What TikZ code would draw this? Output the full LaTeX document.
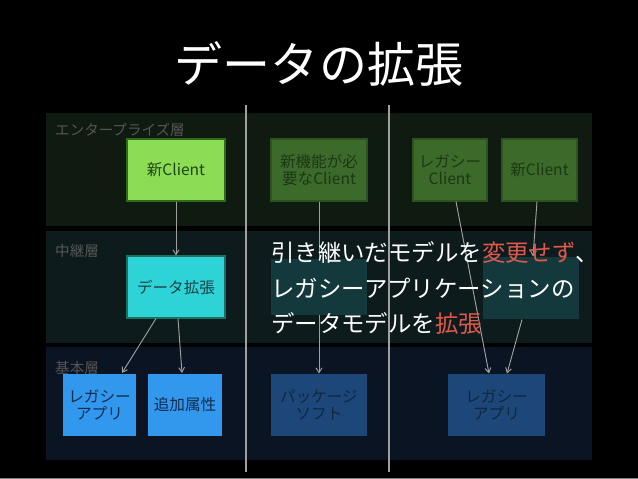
\documentclass[tikz,border=0pt]{standalone}
\usepackage{fontspec}
\setmainfont{Noto Sans CJK JP}
\usetikzlibrary{arrows.meta,calc}

\newlength\dxpx
\setlength\dxpx{0.03cm}

\definecolor{dxbgent}{HTML}{0F1A10}
\definecolor{dxbgmid}{HTML}{0E1B1C}
\definecolor{dxbgbase}{HTML}{0B1423}
\definecolor{dxgreen}{HTML}{8DDC55}
\definecolor{dxgreenln}{HTML}{2F6A1E}
\definecolor{dxgreentx}{HTML}{1E4614}
\definecolor{dxmoss}{HTML}{3C6A2B}
\definecolor{dxmossln}{HTML}{2C5220}
\definecolor{dxmosstx}{HTML}{1C3814}
\definecolor{dxcyan}{HTML}{2DD3D6}
\definecolor{dxcyanln}{HTML}{1D6F60}
\definecolor{dxcyantx}{HTML}{1B4345}
\definecolor{dxghost}{HTML}{14393C}
\definecolor{dxblue}{HTML}{3198EE}
\definecolor{dxbluetx}{HTML}{142C50}
\definecolor{dxnavy}{HTML}{1C4778}
\definecolor{dxnavytx}{HTML}{0F2743}
\definecolor{dxline}{HTML}{A0A0A0}
\definecolor{dxlabel}{HTML}{555555}
\definecolor{dxred}{HTML}{E0584C}

\begin{document}
\begin{tikzpicture}[
  x=0.03cm, y=-0.03cm,
  box/.style={line width=0.9pt, inner sep=0pt, align=center, minimum height=62\dxpx,
    font=\fontsize{13.3}{14.5}\selectfont},
  newbox/.style={box, draw=dxgreenln, fill=dxgreen, text=dxgreentx},
  oldbox/.style={box, draw=dxmossln, fill=dxmoss, text=dxmosstx},
  extbox/.style={box, draw=dxcyanln, fill=dxcyan, text=dxcyantx},
  ghost/.style={box, fill=dxghost},
  basebox/.style={box, fill=dxblue, text=dxbluetx},
  pkgbox/.style={box, fill=dxnavy, text=dxnavytx},
  layer/.style={font=\fontsize{12.4}{14}\selectfont, text=dxlabel, anchor=west, inner sep=0pt},
  arr/.style={draw=dxline, line width=0.8pt, -{Straight Barb[length=4pt,width=5pt]}},
  divider/.style={draw=dxline, line width=1.3pt},
]
  % page and layer bands
  \fill[black] (0,0) rectangle (638,479);
  \useasboundingbox (0,0) rectangle (638,479);
  \fill[dxbgent]  (46,113) rectangle (592,226);
  \fill[dxbgmid]  (46,231) rectangle (592,343);
  \fill[dxbgbase] (46,347) rectangle (592,460);
  \fill[gray] (0,477.5) rectangle (638,479);

  % column dividers
  \draw[divider] (246,105) -- (246,472);
  \draw[divider] (389,105) -- (389,472);

  % title and layer names
  \node[font=\fontsize{41}{48}\selectfont, text=white] (title) at (319,64) {データの拡張};
  \node[layer] (lent)  at (55,130) {エンタープライズ層};
  \node[layer] (lmid)  at (55,251) {中継層};
  \node[layer] (lbase) at (55,368) {基本層};

  % enterprise layer
  \node[newbox, minimum width=98\dxpx] (newl)  at (176,170) {新Client};
  \node[oldbox, minimum width=96\dxpx] (needc) at (319,170) {新機能が必\\要なClient};
  \node[oldbox, minimum width=74\dxpx] (legc)  at (450,170) {レガシー\\Client};
  \node[oldbox, minimum width=75\dxpx] (newr)  at (539.5,170) {新Client};
  % middle layer
  \node[extbox, minimum width=98\dxpx] (dext)   at (176,287) {データ拡張};
  \node[ghost,  minimum width=96\dxpx] (ghostr) at (531,288) {};
  % base layer
  \node[basebox, minimum width=73\dxpx] (lega)  at (99.5,404.5) {レガシー\\アプリ};
  \node[basebox, minimum width=74\dxpx] (attr)  at (185,404.5) {追加属性};
  \node[pkgbox,  minimum width=96\dxpx] (pkg)   at (319,405) {パッケージ\\ソフト};
  \node[pkgbox,  minimum width=97\dxpx] (legar) at (496.5,405) {レガシー\\アプリ};

  % connectors
  \draw[arr] (newl.south) -- (dext.north);
  \draw[arr] ($(dext.south)+(-20,0)$) -- ($(lega.north)+(22.5,0)$);
  \draw[arr] ($(dext.south)+(2,0)$) -- ($(attr.north)+(-3,0)$);
  \draw[arr] (needc.south) -- (pkg.north);
  \draw[arr] ($(legc.south)+(6,0)$) -- ($(legar.north)+(-7.5,0)$);
  \draw[arr] ($(newr.south)+(-2.5,0)$) -- ($(ghostr.north)+(2,0)$);
  \draw[arr] ($(ghostr.south)+(-9,0)$) -- ($(legar.north)+(10.5,0)$);

  \node[ghost, minimum width=96\dxpx, minimum height=56\dxpx] (ghostl) at (319,287) {};

  % overlay message
  \node[anchor=west, inner sep=0pt, align=left, text=white,
    font=\fontsize{20}{30}\selectfont] (msg) at (271,288)
    {引き継いだモデルを\textcolor{dxred}{変更せず}、\\
     レガシーアプリケーションの\\
     データモデルを\textcolor{dxred}{拡張}};
\end{tikzpicture}
\end{document}
